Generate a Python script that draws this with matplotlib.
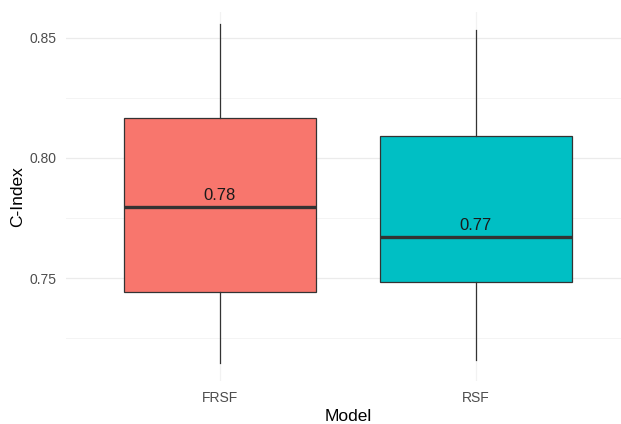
import matplotlib
matplotlib.use("Agg")
import matplotlib.pyplot as plt

plt.rcParams["font.family"] = ["Liberation Sans", "DejaVu Sans"]

# -----------------------------
# Data
# -----------------------------
models = ["FRSF", "RSF"]
whisker_low = [0.7148, 0.7158]
q1 = [0.744, 0.7485]
medians = [0.7797, 0.767]
q3 = [0.8165, 0.8093]
whisker_high = [0.8557, 0.8533]
colors = ["#F8766D", "#00BFC4"]

stats = []
for i, m in enumerate(models):
    stats.append({
        "label": m,
        "whislo": whisker_low[i],
        "q1": q1[i],
        "med": medians[i],
        "q3": q3[i],
        "whishi": whisker_high[i],
        "fliers": [],
    })

# -----------------------------
# Plot
# -----------------------------
fig = plt.figure(figsize=(6.21, 4.24), dpi=100)
ax = fig.add_axes([66 / 621, 43 / 424, (629.6 - 66) / 621, 369 / 424])

positions = list(range(1, len(models) + 1))
bp = ax.bxp(
    stats,
    positions=positions,
    widths=0.75,
    patch_artist=True,
    showcaps=False,
    boxprops=dict(edgecolor="#333333", linewidth=0.9),
    whiskerprops=dict(color="#333333", linewidth=0.9),
    medianprops=dict(color="#333333", linewidth=2.4),
    zorder=3,
)
for patch, c in zip(bp["boxes"], colors):
    patch.set_facecolor(c)

for x, med in zip(positions, medians):
    ax.annotate(f"{med:.2f}", (x, med), xytext=(0, 3), textcoords="offset points",
                ha="center", va="bottom", fontsize=12, color="#1a1a1a", zorder=4)

ax.set_xlim(0.4, 2.6)
ax.set_ylim(0.7071, 0.8608)
ax.set_xticks(positions)
ax.set_xticklabels(models)
ax.set_yticks([0.75, 0.80, 0.85])
ax.set_yticks([0.725, 0.775, 0.825], minor=True)

ax.grid(which="major", axis="y", color="#EBEBEB", linewidth=0.9, zorder=0)
ax.grid(which="major", axis="x", color="#F2F2F2", linewidth=0.9, zorder=0)
ax.grid(which="minor", axis="y", color="#F2F2F2", linewidth=0.6, zorder=0)
ax.set_axisbelow(True)

for s in ax.spines.values():
    s.set_visible(False)
ax.tick_params(which="both", length=0, labelsize=10, labelcolor="#4D4D4D", pad=7)

ax.set_xlabel("Model", fontsize=12.5, color="black", labelpad=3)
ax.set_ylabel("C-Index", fontsize=12.5, color="black", labelpad=3)

fig.savefig("out.png", dpi=100)
